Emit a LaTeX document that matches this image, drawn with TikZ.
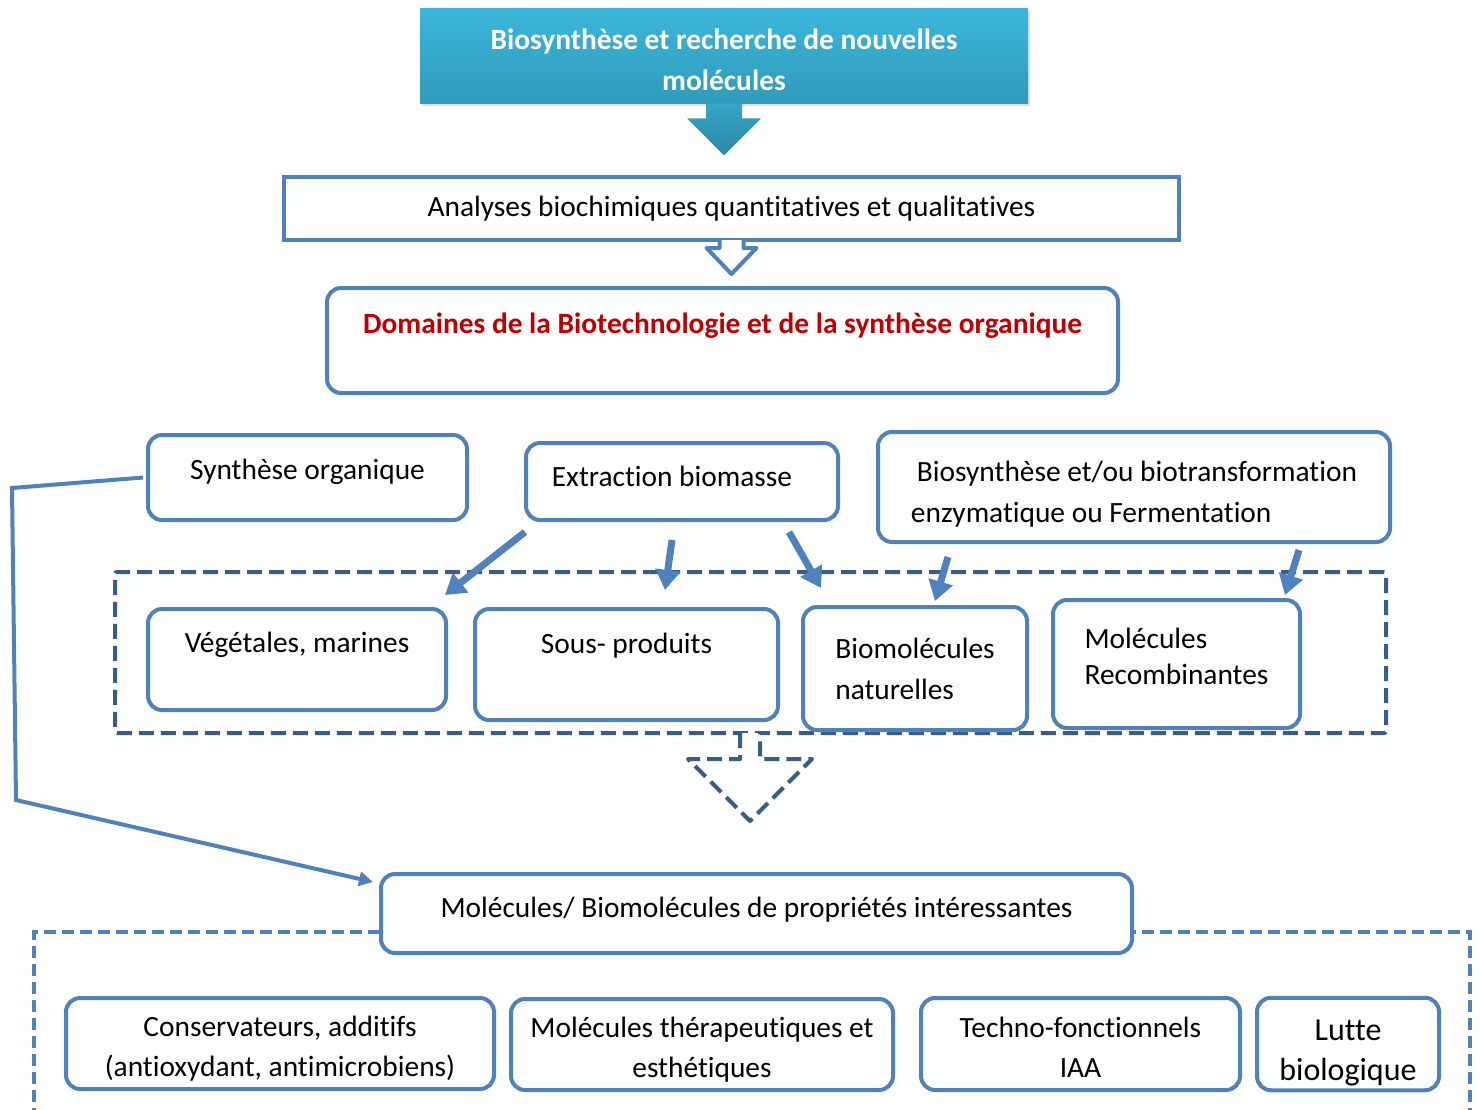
\documentclass[tikz,border=0pt]{standalone}
\usepackage{fontspec}
\setmainfont{Carlito}[Ligatures=CommonOff]
\usetikzlibrary{arrows.meta,shadows,positioning}
\definecolor{boxblue}{HTML}{4F81BD}
\definecolor{frameblue}{HTML}{385D8A}
\definecolor{cyantop}{HTML}{3CB6DB}
\definecolor{cyanbot}{HTML}{2F9BBA}
\definecolor{arrowtop}{HTML}{37A6C6}
\definecolor{arrowbot}{HTML}{2A88A4}
\definecolor{titlered}{HTML}{C00000}
\newcommand\strutto[1]{\rule{0pt}{#1}}
\begin{document}
\begin{tikzpicture}[x=0.5pt, y=-0.5pt, font=\fontsize{14.7}{20.5}\selectfont,
    box/.style={draw=boxblue, line width=2pt, rounded corners=7pt, fill=white, align=center, inner sep=2pt},
    lift/.style={text height=11pt, text depth=#1},
    pointer/.style={boxblue, line width=3.5pt, -{Triangle[length=10pt, width=12pt]}},
    link/.style={boxblue, line width=2pt, -{Triangle[length=7pt, width=7pt]}}]
    \useasboundingbox (0,0) rectangle (1480,1110);
    % title block and its arrow
    \node[top color=cyantop, bottom color=cyanbot, drop shadow={opacity=0.25, shadow xshift=1pt, shadow yshift=-1.5pt},
          minimum width=304pt, minimum height=47.5pt, align=center, text=white, font=\fontsize{14.7}{20.5}\selectfont\bfseries]
          (title) at (724,55.5) {\strutto{15pt}Biosynthèse et recherche de nouvelles\\molécules};
    \shade[top color=arrowtop, bottom color=arrowbot] (title.south) ++(-18,0) -- ++(0,15) -- ++(-19,0) -- ++(37,37)
          -- ++(37,-37) -- ++(-19,0) -- ++(0,-15) -- cycle;
    \node[box, lift=3.5pt, rounded corners=0pt, minimum width=447.5pt, minimum height=31.5pt] (ana) at (731.5,208.5)
          {Analyses biochimiques quantitatives et qualitatives};
    \draw[boxblue, line width=2pt, fill=white, line join=round] (ana.south) ++(-12,-2) -- ++(0,8) -- ++(-13,0) -- ++(25,26)
          -- ++(25,-26) -- ++(-13,0) -- ++(0,-8);
    \node[box, lift=18.5pt, minimum width=395.5pt, minimum height=52.5pt, text=titlered, font=\fontsize{14.7}{20.5}\selectfont\bfseries]
          (dom) at (722.5,340.5) {Domaines de la Biotechnologie et de la synthèse organique};
    % sources
    \node[draw=frameblue, line width=2pt, dash pattern=on 7.5pt off 3.5pt, rounded corners=1pt,
          minimum width=635.5pt, minimum height=80.5pt] (grp) at (750.5,652.5) {};
    \node[box, lift=9pt, minimum width=159.5pt, minimum height=42.5pt] (synth) at (307.5,477.5) {Synthèse organique};
    \node[box, lift=6pt, minimum width=156pt, minimum height=38.5pt] (extr) at (682,481.5) {Extraction biomasse\hspace*{10pt}};
    \node[box, align=left, minimum width=256pt, minimum height=55pt] (bio) at (1134,487)
          {\strutto{17pt}\hspace*{3pt}Biosynthèse et/ou biotransformation\\enzymatique ou Fermentation};
    \node[box, lift=18pt, minimum width=149pt, minimum height=50.5pt] (veg) at (297,659.5) {Végétales, marines};
    \node[box, lift=22pt, minimum width=151.5pt, minimum height=55.5pt] (sous) at (626.5,664.5) {Sous- produits};
    \node[box, align=left, minimum width=112pt, minimum height=61.5pt] (biomol) at (915,668.5) {Biomolécules\\ naturelles};
    \node[box, align=left, minimum width=123.5pt, minimum height=64pt, font=\fontsize{14.7}{18}\selectfont] (recomb) at (1176.5,664)
          {Molécules\\Recombinantes\\[-10pt]\mbox{}};
    \draw[pointer] ([shift={(1,10)}]extr.south west) -- ([shift={(-3,-12)}]veg.north east);
    \draw[pointer] ([shift={(-10,18)}]extr.south) -- ([shift={(38.5,-17)}]sous.north);
    \draw[pointer] ([shift={(-51,10)}]extr.south east) -- ([shift={(20,-17)}]biomol.north west);
    \draw[pointer] ([shift={(72,13)}]bio.south west) -- ([shift={(20,-4)}]biomol.north);
    \draw[pointer] ([shift={(-93,6)}]bio.south east) -- ([shift={(-17,-3)}]recomb.north east);
    \draw[frameblue, line width=2pt, dash pattern=on 7.5pt off 3.5pt, fill=white, line join=round]
          (grp.south) ++(-10.5,-2) -- ++(0,26) -- ++(-52,0) -- ++(62,62) -- ++(62,-62) -- ++(-52,0) -- ++(0,-26);
    % applications
    \draw[boxblue, line width=2pt, dash pattern=on 6pt off 3pt] (34,1120) -- (34,932) -- (1470,932) -- (1470,1120);
    \node[box, lift=7pt, minimum width=375.5pt, minimum height=39.5pt] (mol) at (756.5,913.5)
          {Molécules/ Biomolécules de propriétés intéressantes};
    \coordinate (bendtop) at (12,488);
    \coordinate (bendbot) at (16,800);
    \draw[link] ([xshift=-1.5pt]synth.west) -- (bendtop) -- (bendbot) -- ([shift={(-6,10)}]mol.north west);
    \node[box, minimum width=214pt, minimum height=45.5pt, font=\fontsize{14.7}{20}\selectfont] (cons) at (280,1043.5)
          {\strutto{15pt}Conservateurs, additifs\\(antioxydant, antimicrobiens)};
    \node[box, minimum width=191pt, minimum height=45.5pt, font=\fontsize{14.7}{20}\selectfont] (thera) at (702,1044.5)
          {\strutto{15pt}Molécules thérapeutiques et\\esthétiques};
    \node[box, minimum width=159.5pt, minimum height=46pt, font=\fontsize{14.7}{20}\selectfont] (techno) at (1080.5,1044)
          {\strutto{13pt}Techno-fonctionnels\\IAA};
    \node[box, minimum width=91pt, minimum height=46pt, font=\fontsize{16}{20}\selectfont] (lutte) at (1348,1044)
          {\strutto{19.5pt}Lutte\\biologique};
\end{tikzpicture}
\end{document}
